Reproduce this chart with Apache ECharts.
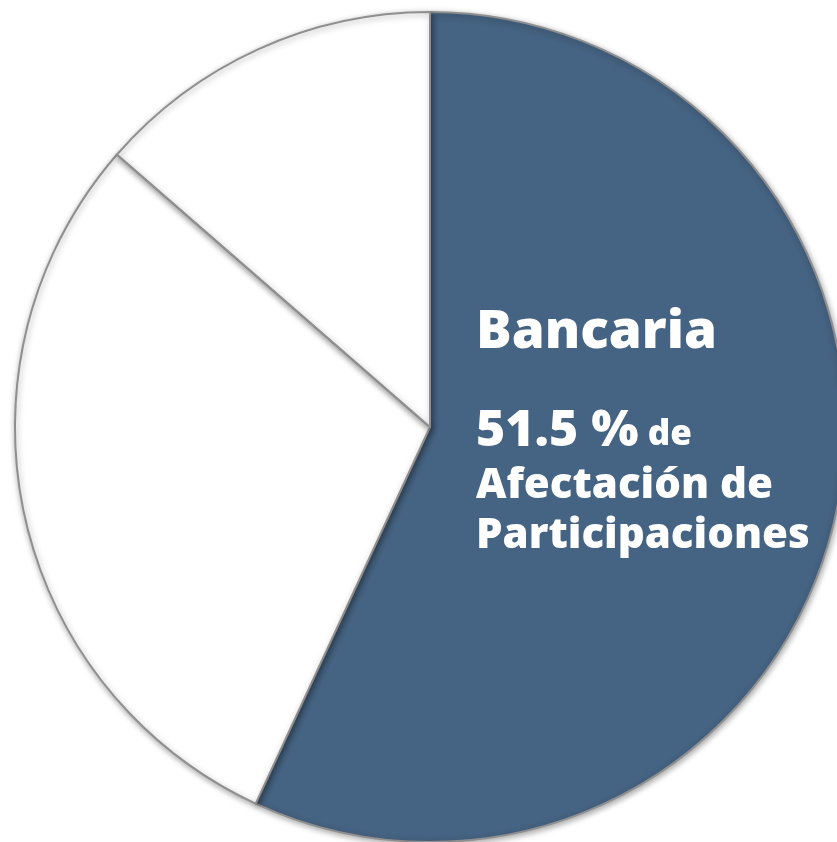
<!DOCTYPE html>
<html>
<head>
<meta charset="utf-8">
<script src="https://cdn.jsdelivr.net/npm/echarts@6/dist/echarts.min.js"></script>
<style>
	html, body { margin: 0; padding: 0; background: #fff; }
	#chart { width: 837px; height: 842px; }
</style>
</head>
<body>
<div id="chart"></div>
<script>
var sliceNames = ['Bancaria', 'Segmento 2', 'Segmento 3'];
var sliceValues = [56.9, 29.5, 13.6];
var sliceColors = ['#456382', '#ffffff', '#ffffff'];

// label text of the blue slice
var labelTitle = 'Bancaria';
var labelPct = '51.5 %';
var labelLines = ['Afectación de', 'Participaciones'];

var chart = echarts.init(document.getElementById('chart'));

var data = [];
for (var i = 0; i < sliceValues.length; i++) {
	data.push({
		name: sliceNames[i],
		value: sliceValues[i],
		itemStyle: { color: sliceColors[i] }
	});
}

var FONT = 'Open Sans';

var option = {
	animation: false,
	series: [
		{
			type: 'pie',
			center: [430, 427],
			radius: 415,
			startAngle: 90,
			clockwise: true,
			label: { show: false },
			labelLine: { show: false },
			itemStyle: {
				borderColor: '#8f8f8f',
				borderWidth: 2,
				shadowBlur: 6,
				shadowColor: 'rgba(0,0,0,0.35)',
				shadowOffsetX: 1,
				shadowOffsetY: 2
			},
			emphasis: { disabled: true },
			data: data
		}
	],
	graphic: [
		{
			type: 'text', left: 476, top: 306, z: 100,
			style: { text: labelTitle, fill: '#fff', fontSize: 53, fontWeight: 800, fontFamily: FONT }
		},
		{
			type: 'text', left: 476, top: 407, z: 100,
			style: {
				text: '{a|' + labelPct + '}{b| de}',
				rich: {
					a: { fill: '#fff', fontSize: 50, fontWeight: 800, fontFamily: FONT, verticalAlign: 'bottom' },
					b: { fill: '#fff', fontSize: 35, fontWeight: 800, fontFamily: FONT, verticalAlign: 'bottom', padding: [0, 0, 4, 0] }
				}
			}
		},
		{
			type: 'text', left: 476, top: 465, z: 100,
			style: { text: labelLines[0], fill: '#fff', fontSize: 42, fontWeight: 800, fontFamily: FONT }
		},
		{
			type: 'text', left: 476, top: 515, z: 100,
			style: { text: labelLines[1], fill: '#fff', fontSize: 42, fontWeight: 800, fontFamily: FONT }
		}
	]
};
chart.setOption(option);
</script>
</body>
</html>
